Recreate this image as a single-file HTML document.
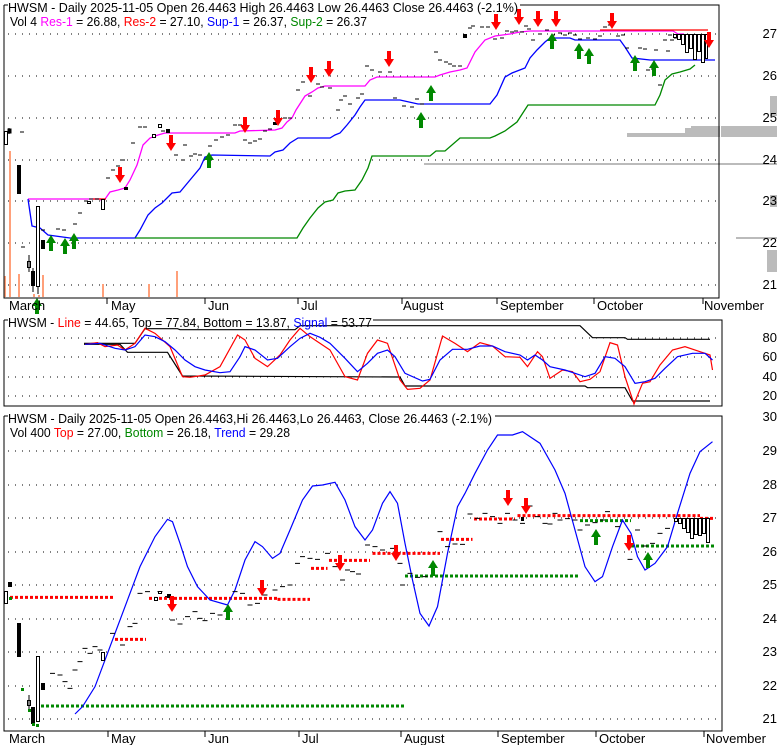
<!DOCTYPE html>
<html><head><meta charset="utf-8"><style>
body{margin:0;background:#fff}
svg{display:block;font-family:"Liberation Sans",sans-serif;font-size:13px}
</style></head><body>
<svg width="780" height="745" viewBox="0 0 780 745" xmlns="http://www.w3.org/2000/svg">
<rect width="780" height="745" fill="#fff"/>
<defs>
<g id="dn"><polygon points="-2,-16 2,-16 2,-8 5,-8 0,0 -5,-8 -2,-8" fill="#f00"/></g>
<g id="up"><polygon points="-2,16 2,16 2,8 5,8 0,0 -5,8 -2,8" fill="#080"/></g>
</defs>

<!-- ============ PANEL 1 ============ -->
<g stroke="#000" stroke-dasharray="1,6" stroke-width="1">
<line x1="8" x2="718" y1="34" y2="34"/><line x1="8" x2="718" y1="76" y2="76"/><line x1="8" x2="718" y1="118" y2="118"/><line x1="8" x2="718" y1="160" y2="160"/><line x1="8" x2="718" y1="201" y2="201"/><line x1="8" x2="718" y1="243" y2="243"/><line x1="8" x2="718" y1="285" y2="285"/>
</g>
<g fill="#bbb">
<rect x="627" y="133" width="93" height="4"/><rect x="685" y="128" width="35" height="9"/><rect x="691" y="126" width="29" height="11"/>
<rect x="721" y="126" width="56" height="11"/>
<rect x="424" y="163" width="296" height="2"/><rect x="720" y="163" width="57" height="2"/>
<rect x="736" y="237" width="41" height="2"/><rect x="767" y="250" width="10" height="22"/><rect x="770" y="96" width="7" height="20"/><rect x="770" y="195" width="7" height="12"/>
</g>
<g fill="#ffa07a">
<rect x="9" y="151" width="2" height="146"/><rect x="4" y="276" width="2" height="21"/><rect x="18" y="274" width="2" height="23"/><rect x="42" y="275" width="2" height="22"/><rect x="102" y="284" width="2" height="13"/><rect x="148" y="284" width="2" height="13"/><rect x="176" y="271" width="2" height="26"/><rect x="33" y="294" width="2" height="3"/><rect x="38" y="295" width="2" height="2"/>
</g>
<polyline fill="none" stroke="#f0f" stroke-width="1.3" points="28,199 100,199 103,202 110,192 118,190 125,188 130,180 137,165 143,145 150,138 158,135 165,133 235,133 240,131 275,130 282,128 287,122 292,118 296,110 305,96 312,92 318,88 325,86 365,86 370,80 377,77 435,77 440,75 450,72 460,70 467,68 470,62 475,52 485,40 495,36 510,34 520,32 530,31 600,31 673,31 678,34 684,34"/>
<polyline fill="none" stroke="#f00" stroke-width="1.3" points="600,30 708,30"/>
<polyline fill="none" stroke="#f00" stroke-width="1.3" points="93,199 106,199"/>
<polyline fill="none" stroke="#00f" stroke-width="1.3" points="28,199 32,226 40,228 48,235 70,238 135,238 140,230 148,215 155,208 162,203 172,193 180,192 190,180 200,168 205,157 212,155 270,156 275,152 283,150 290,143 298,138 330,138 335,135 340,133 347,125 355,115 360,107 365,100 400,100 418,104 490,104 497,95 505,77 512,73 525,68 530,58 537,50 545,42 550,38 570,38 575,40 620,40 625,47 632,58 650,60 715,60"/>
<polyline fill="none" stroke="#080" stroke-width="1.3" points="135,238 297,238 303,228 310,218 318,208 325,202 333,200 338,193 345,191 355,190 362,180 368,168 372,156 430,156 436,151 445,151 460,138 490,138 495,136 505,131 517,122 528,105 655,105 660,95 665,80 672,74 680,72 690,69 695,65"/>
<g stroke="#000" stroke-width="1">
<path d="M20,132h4M21,247h4M27,262h4M41,230h4M56,229h4M62,230h4M73,224h4M78,213h4M84,201h4M89,199h4M95,199h4M106,178h4M111,170h4M116,166h4M121,160h4M131,143h4M138,127h4M143,127h4M161,131h4M174,155h4M181,160h4M183,145h4M189,156h4M193,154h4M198,155h4M208,146h4M214,140h4M220,137h4M226,135h4M233,125h4M238,125h4M243,140h4M248,143h4M253,141h4M258,139h4M263,131h4M268,129h4M283,118h4M288,118h4M296,90h4M301,82h4M308,96h4M316,84h4M320,87h4M328,88h4M336,110h4M339,100h4M343,96h4M348,104h4M356,98h4M360,94h4M365,66h4M370,70h4M378,72h4M388,72h4M393,98h4M402,106h4M410,107h4M415,99h4M420,104h4M434,52h4M438,60h4M444,62h4M448,64h4M452,66h4M458,66h4M468,28h4M471,26h4M480,27h4M486,27h4M493,39h4M500,38h4M505,31h4M510,32h4M514,31h4M520,32h4M524,26h4M527,29h4M531,40h4M538,34h4M545,30h4M551,35h4M558,33h4M563,35h4M568,33h4M573,35h4M578,39h4M586,38h4M593,39h4M598,36h4M603,27h4M608,25h4M616,36h4M621,35h4M625,48h4M633,70h4M638,48h4M643,49h4M646,70h4M651,69h4M654,50h4M658,85h4M666,51h4M663,40h4M668,35h4M670,40h4M674,38h4"/>
</g>
<g stroke="#000" stroke-width="1">
<rect x="4.5" y="131.5" width="3" height="13" fill="#fff"/><line x1="9" y1="128" x2="9" y2="134"/><rect x="8" y="129" width="3" height="4" fill="#000"/>
<rect x="17.5" y="165.5" width="3" height="28" fill="#000"/>
<rect x="27.5" y="261.5" width="3" height="6" fill="#fff"/><line x1="29" y1="255" x2="29" y2="272"/>
<rect x="31.5" y="271.5" width="3" height="14" fill="#000"/><line x1="33" y1="268" x2="33" y2="292"/>
<rect x="36.5" y="206.5" width="3" height="80" fill="#fff"/><line x1="38" y1="286" x2="38" y2="294"/>
<rect x="41.5" y="240.5" width="3" height="8" fill="#000"/>
<rect x="101.5" y="199.5" width="3" height="10" fill="#fff"/>
<rect x="87.5" y="201.5" width="3" height="2" fill="#fff"/>
<rect x="124.5" y="187.5" width="3" height="2" fill="#000"/>
<rect x="152.5" y="134.5" width="3" height="3" fill="#fff"/><rect x="158.5" y="124.5" width="3" height="3" fill="#fff"/><rect x="166.5" y="129.5" width="3" height="3" fill="#000"/>
<rect x="273.5" y="122.5" width="3" height="2" fill="#000"/><rect x="463.5" y="34.5" width="3" height="3" fill="#000"/>
<rect x="673.5" y="34.5" width="3" height="3" fill="#fff"/>
<rect x="677.5" y="34.5" width="3" height="5" fill="#fff"/>
<rect x="681.5" y="34.5" width="3" height="10" fill="#fff"/>
<rect x="685.5" y="34.5" width="3" height="18" fill="#fff"/>
<rect x="689.5" y="34.5" width="3" height="14" fill="#fff"/>
<rect x="693.5" y="34.5" width="3" height="25" fill="#fff"/>
<rect x="697.5" y="34.5" width="3" height="17" fill="#fff"/>
<rect x="701.5" y="34.5" width="3" height="28" fill="#fff"/>
<rect x="705.5" y="34.5" width="2" height="24" fill="#fff"/>
</g>
<use href="#dn" x="120" y="183"/><use href="#dn" x="171" y="151"/><use href="#dn" x="245" y="133"/><use href="#dn" x="278" y="126"/><use href="#dn" x="311" y="83"/><use href="#dn" x="329" y="77"/><use href="#dn" x="389" y="67"/><use href="#dn" x="496" y="30"/><use href="#dn" x="519" y="25"/><use href="#dn" x="538" y="27"/><use href="#dn" x="556" y="27"/><use href="#dn" x="612" y="29"/><use href="#dn" x="709" y="48"/>
<use href="#up" x="37" y="298"/><use href="#up" x="51" y="235"/><use href="#up" x="65" y="238"/><use href="#up" x="74" y="233"/><use href="#up" x="209" y="152"/><use href="#up" x="421" y="112"/><use href="#up" x="431" y="85"/><use href="#up" x="552" y="33"/><use href="#up" x="579" y="43"/><use href="#up" x="589" y="48"/><use href="#up" x="635" y="55"/><use href="#up" x="654" y="60"/>
<path d="M4,5 V298 H719 V5 H520" fill="none" stroke="#000"/>
<path d="M4,5 H8" stroke="#000"/>
<text x="8" y="12" textLength="510" lengthAdjust="spacingAndGlyphs">HWSM - Daily 2025-11-05 Open 26.4463  High 26.4463  Low 26.4463  Close 26.4463 (-2.1%)</text>
<text x="10" y="26" textLength="357" lengthAdjust="spacingAndGlyphs">Vol 4 <tspan fill="#f0f">Res-1</tspan> = 26.88, <tspan fill="#f00">Res-2</tspan> = 27.10, <tspan fill="#00f">Sup-1</tspan> = 26.37, <tspan fill="#080">Sup-2</tspan> = 26.37</text>
<g text-anchor="end"><text x="777" y="38">27</text><text x="777" y="80">26</text><text x="777" y="122">25</text><text x="777" y="164">24</text><text x="777" y="205">23</text><text x="777" y="247">22</text><text x="777" y="289">21</text></g>
<g stroke="#000"><path d="M107,298v6M205,298v6M298,298v6M402,298v6M497,298v6M594,298v6M703,298v6"/></g>
<g><text x="9" y="310">March</text><text x="111" y="310">May</text><text x="208" y="310">Jun</text><text x="301" y="310">Jul</text><text x="403" y="310">August</text><text x="500" y="310">September</text><text x="597" y="310">October</text><text x="704" y="310">November</text></g>

<!-- ============ PANEL 2 ============ -->
<g stroke="#000" stroke-dasharray="1,6"><line x1="8" x2="718" y1="338" y2="338"/><line x1="8" x2="718" y1="357" y2="357"/><line x1="8" x2="718" y1="377" y2="377"/><line x1="8" x2="718" y1="396" y2="396"/></g>
<g transform="translate(0,300) scale(0.5,0.33333)" fill="none">
<polyline stroke="#000" stroke-width="1.2" vector-effect="non-scaling-stroke" points="168,130 270,130 290,86 355,86 360,89 590,89 600,77 1160,77 1185,113 1250,113 1255,118 1420,118"/>
<polyline stroke="#000" stroke-width="1.2" vector-effect="non-scaling-stroke" points="168,133 240,133 255,157 335,157 365,228 800,231 810,258 1170,258 1175,263 1250,263 1265,303 1420,303"/>
<polyline stroke="#f00" stroke-width="1.2" vector-effect="non-scaling-stroke" points="170,133 195,128 210,140 235,135 250,150 270,130 290,85 310,100 340,140 365,230 380,232 410,225 440,200 475,105 490,120 510,175 535,200 560,165 580,120 600,85 620,110 660,150 690,230 715,240 735,160 755,120 775,130 800,240 815,268 840,265 860,240 885,108 910,130 935,155 960,128 985,138 1010,170 1040,172 1055,200 1075,155 1085,170 1100,235 1125,210 1145,215 1160,245 1180,238 1200,215 1220,128 1235,135 1250,230 1268,312 1285,250 1300,245 1320,195 1345,150 1370,140 1400,155 1420,165 1425,210"/>
<polyline stroke="#00f" stroke-width="1.2" vector-effect="non-scaling-stroke" points="170,133 200,130 230,145 250,150 270,140 290,105 310,110 330,125 350,150 370,180 390,200 410,210 440,218 460,215 480,170 490,140 510,150 535,180 555,175 580,140 600,115 620,100 640,112 660,130 690,175 715,215 735,190 755,160 775,150 790,170 810,220 845,243 860,238 880,180 905,148 935,148 960,138 985,138 1010,155 1040,165 1055,180 1070,165 1085,180 1100,200 1130,210 1150,220 1170,230 1190,220 1210,170 1230,175 1250,200 1270,250 1290,245 1310,235 1330,205 1355,170 1385,160 1410,160 1425,180"/>
</g>
<path d="M4,320 V406 H722 V320 H373" fill="none" stroke="#000"/>
<path d="M4,320 H8" stroke="#000"/>
<text x="8" y="327" textLength="364" lengthAdjust="spacingAndGlyphs">HWSM - <tspan fill="#f00">Line</tspan> = 44.65, Top = 77.84, Bottom = 13.87, <tspan fill="#00f">Signal</tspan> = 53.77</text>
<g text-anchor="end"><text x="777" y="342">80</text><text x="777" y="361">60</text><text x="777" y="381">40</text><text x="777" y="400">20</text></g>

<!-- ============ PANEL 3 ============ -->
<g stroke="#000" stroke-dasharray="1,6"><line x1="8" x2="720" y1="451" y2="451"/><line x1="8" x2="720" y1="485" y2="485"/><line x1="8" x2="720" y1="518" y2="518"/><line x1="8" x2="720" y1="552" y2="552"/><line x1="8" x2="720" y1="585" y2="585"/><line x1="8" x2="720" y1="619" y2="619"/><line x1="8" x2="720" y1="652" y2="652"/><line x1="8" x2="720" y1="686" y2="686"/><line x1="8" x2="720" y1="719" y2="719"/></g>
<g transform="translate(0,420) scale(0.5,0.33333)">
<g fill="none" stroke-width="3" stroke-dasharray="3,2">
<path stroke="#f00" stroke-width="3" stroke-dasharray="3,2" vector-effect="non-scaling-stroke" d="M10,532H228M298,535H555M555,538H620M230,658H292M622,445H655M658,421H740M745,400H880M882,358H945M948,297H1030M1035,287H1400M1400,295H1428"/>
<path stroke="#080" stroke-width="3" stroke-dasharray="3,2" vector-effect="non-scaling-stroke" d="M82,858H808M810,468H1160M1160,302H1262M1262,378H1428"/>
</g>
<polyline fill="none" stroke="#00f" stroke-width="1.2" vector-effect="non-scaling-stroke" points="150,882 165,860 190,800 220,680 250,560 280,440 310,350 335,298 345,305 360,370 375,440 395,500 420,540 455,555 470,510 490,420 510,365 525,380 545,415 560,400 580,330 605,240 625,198 645,195 670,187 690,240 710,320 730,360 745,330 765,250 780,215 795,250 810,370 825,480 840,580 858,618 875,560 895,400 915,260 930,220 950,160 975,90 995,45 1025,45 1045,35 1080,70 1110,150 1130,220 1150,330 1170,440 1190,485 1205,470 1225,380 1245,300 1262,340 1275,410 1290,450 1310,430 1335,380 1355,280 1380,160 1400,95 1425,65"/>
<path stroke="#000" stroke-width="1" vector-effect="non-scaling-stroke" d="M100,760h10M115,765h10M125,785h10M135,805h10M145,750h10M155,725h10M165,685h10M175,700h10M185,680h10M195,690h10M220,640h10M240,675h10M255,620h10M265,610h10M275,520h10M290,515h10M315,515h10M330,530h10M340,600h10M355,612h10M370,590h10M385,575h10M395,595h10M405,602h10M420,580h10M435,585h10M465,515h10M480,520h10M495,555h10M510,550h10M525,525h10M545,510h10M560,500h10M575,495h10M590,430h10M600,410h10M615,415h10M630,418h10M650,400h10M665,440h10M680,480h10M690,450h10M700,455h10M712,462h10M730,375h10M745,380h10M760,390h10M780,385h10M795,430h10M800,495h10M815,460h10M830,472h10M845,470h10M875,335h10M890,380h10M905,372h10M920,373h10M935,282h10M950,295h10M965,280h10M980,290h10M995,310h10M1010,280h10M1025,300h10M1040,310h10M1055,258h10M1070,290h10M1085,310h10M1095,312h10M1105,280h10M1115,300h10M1130,296h10M1145,300h10M1155,330h10M1170,315h10M1185,308h10M1200,300h10M1210,275h10M1230,320h10M1255,418h10M1270,330h10M1285,378h10M1300,370h10M1315,340h10M1330,325h10"/>
</g>
<g stroke="#000" stroke-width="1">
<rect x="4.5" y="591.5" width="3" height="12" fill="#fff"/><rect x="8.5" y="582.5" width="3" height="4" fill="#000"/>
<rect x="17.5" y="623.5" width="3" height="33" fill="#000"/>
<rect x="27.5" y="700.5" width="3" height="5" fill="#fff"/><line x1="29" y1="695" x2="29" y2="712"/>
<rect x="31.5" y="707.5" width="3" height="16" fill="#000"/>
<rect x="36.5" y="656.5" width="3" height="65" fill="#fff"/>
<rect x="41.5" y="683.5" width="3" height="6" fill="#000"/>
<rect x="101.5" y="652.5" width="3" height="8" fill="#fff"/>
<rect x="154.5" y="597.5" width="3" height="3" fill="#fff"/><rect x="158.5" y="591.5" width="3" height="2" fill="#fff"/><rect x="167.5" y="594.5" width="3" height="3" fill="#000"/>
<rect x="521.5" y="517.5" width="2" height="3" fill="#000"/>
<rect x="674.5" y="518.5" width="3" height="3" fill="#fff"/><rect x="678.5" y="518.5" width="3" height="5" fill="#fff"/><rect x="682.5" y="518.5" width="3" height="10" fill="#fff"/><rect x="686.5" y="518.5" width="3" height="14" fill="#fff"/><rect x="690.5" y="518.5" width="3" height="20" fill="#fff"/><rect x="694.5" y="518.5" width="3" height="16" fill="#fff"/><rect x="698.5" y="518.5" width="3" height="17" fill="#fff"/><rect x="702.5" y="518.5" width="3" height="15" fill="#fff"/><rect x="706.5" y="518.5" width="3" height="24" fill="#fff"/>
</g>
<g fill="#080"><rect x="21" y="688" width="3" height="3"/><rect x="28" y="709" width="3" height="3"/><rect x="32" y="723" width="3" height="3"/><rect x="36" y="724" width="3" height="3"/><rect x="9" y="597" width="3" height="3"/></g>
<use href="#dn" x="172" y="612"/><use href="#dn" x="262" y="596"/><use href="#dn" x="340" y="571"/><use href="#dn" x="396" y="561"/><use href="#dn" x="508" y="506"/><use href="#dn" x="526" y="514"/><use href="#dn" x="629" y="551"/>
<use href="#up" x="228" y="604"/><use href="#up" x="433" y="560"/><use href="#up" x="596" y="529"/><use href="#up" x="648" y="552"/>
<path d="M4,416 V731 H722 V416 H495" fill="none" stroke="#000"/>
<path d="M4,416 H8" stroke="#000"/>
<text x="8" y="423" textLength="484" lengthAdjust="spacingAndGlyphs">HWSM - Daily 2025-11-05 Open 26.4463,Hi 26.4463,Lo 26.4463, Close 26.4463 (-2.1%)</text>
<text x="10" y="437" textLength="280" lengthAdjust="spacingAndGlyphs">Vol 400 <tspan fill="#f00">Top</tspan> = 27.00, <tspan fill="#080">Bottom</tspan> = 26.18, <tspan fill="#00f">Trend</tspan> = 29.28</text>
<g text-anchor="end"><text x="777" y="421">30</text><text x="777" y="455">29</text><text x="777" y="489">28</text><text x="777" y="522">27</text><text x="777" y="556">26</text><text x="777" y="589">25</text><text x="777" y="623">24</text><text x="777" y="656">23</text><text x="777" y="690">22</text><text x="777" y="723">21</text></g>
<g stroke="#000"><path d="M108,731v6M205,731v6M299,731v6M401,731v6M498,731v6M596,731v6M704,731v6"/></g>
<g><text x="9" y="743">March</text><text x="111" y="743">May</text><text x="208" y="743">Jun</text><text x="302" y="743">Jul</text><text x="404" y="743">August</text><text x="501" y="743">September</text><text x="599" y="743">October</text><text x="706" y="743">November</text></g>
</svg>
</body></html>
